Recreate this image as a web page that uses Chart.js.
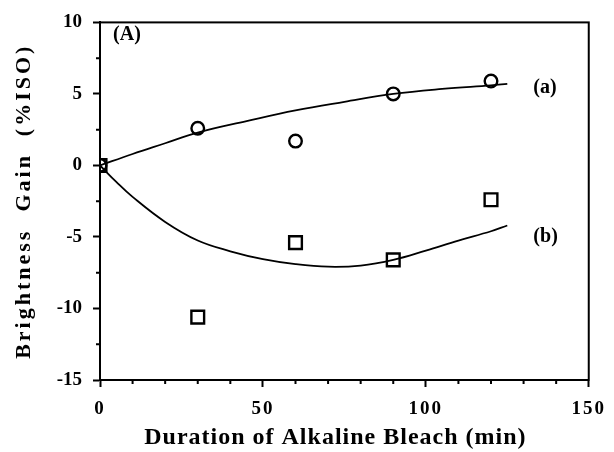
<!DOCTYPE html>
<html><head><meta charset="utf-8">
<script src="https://cdn.jsdelivr.net/npm/chart.js@4/dist/chart.umd.min.js"></script>
<style>html,body{margin:0;padding:0;background:#fff}#wrap{width:614px;height:452px}</style>
</head><body><div id="wrap"><canvas id="c" width="614" height="452"></canvas></div>
<script>
// ---- data ----
const durationCircles = [0, 30, 60, 90, 120];
const gainCircles = [0, 2.6, 1.7, 5.0, 5.9];
const durationSquares = [0, 30, 60, 90, 120];
const gainSquares = [0, -10.6, -5.4, -6.6, -2.4];
const fitA_x = [0, 10, 20, 30, 45, 60, 75, 90, 105, 120, 125];
const fitA_y = [0, 0.8, 1.55, 2.3, 3.1, 3.85, 4.45, 5.0, 5.35, 5.6, 5.7];
const fitB_x = [0, 5, 10, 20, 30, 40, 50, 60, 70, 80, 90, 100, 110, 120, 125];
const fitB_y = [0, -1.15, -2.2, -3.95, -5.25, -6.0, -6.55, -6.9, -7.08, -7.0, -6.6, -5.95, -5.25, -4.6, -4.2];
const xTicks = [0, 50, 100, 150];
const yTicks = [-15, -10, -5, 0, 5, 10];
const xMinorTicks = [10, 20, 30, 40, 60, 70, 80, 90, 110, 120, 130, 140];
const yMinorTicks = [-12.5, -7.5, -2.5, 2.5, 7.5];
const noteTexts = ['(A)', '(a)', '(b)'];
const noteX = [4, 133, 133];
const noteY = [9.1, 5.4, -5.0];
const xTitle = 'Duration of Alkaline Bleach (min)';
const yTitle = 'Brightness  Gain  (%ISO)';

const SERIF = '"Liberation Serif", "DejaVu Serif", serif';
const toPts = (xs, ys) => xs.map((x, i) => ({x, y: ys[i]}));

const extras = {
  id: 'extras',
  afterLayout(chart) {
    const xs = chart.scales.x, ys = chart.scales.y;
    if (!xs._lsPatched) {
      const o = xs.drawLabels;
      xs.drawLabels = function (a) { const c = this.ctx; c.save(); c.letterSpacing = '2px'; o.call(this, a); c.restore(); };
      const ot = xs.drawTitle;
      xs.drawTitle = function () { const c = this.ctx; c.save(); c.translate(-9, 0); c.letterSpacing = '1px'; ot.call(this); c.restore(); };
      xs._lsPatched = true;
    }
    if (!ys._lsPatched) {
      const ot = ys.drawTitle;
      ys.drawTitle = function () { const c = this.ctx; c.save(); c.letterSpacing = '3px'; ot.call(this); c.restore(); };
      ys._lsPatched = true;
    }
  },
  beforeDatasetsDraw(chart) {
    const {ctx, chartArea: a} = chart;
    ctx.save();
    ctx.strokeStyle = '#000';
    ctx.lineWidth = 2;
    ctx.strokeRect(a.left, a.top, a.right - a.left, a.bottom - a.top);
    ctx.restore();
  },
  afterDraw(chart) {
    const {ctx, chartArea: a, scales: {x, y}} = chart;
    ctx.save();
    ctx.strokeStyle = '#000';
    ctx.lineWidth = 2;
    ctx.beginPath();
    xMinorTicks.forEach(v => { const p = x.getPixelForValue(v); ctx.moveTo(p, a.bottom); ctx.lineTo(p, a.bottom + 4); });
    yMinorTicks.forEach(v => { const p = y.getPixelForValue(v); ctx.moveTo(a.left - 4, p); ctx.lineTo(a.left, p); });
    ctx.stroke();
    ctx.fillStyle = '#000';
    ctx.font = 'bold 20px ' + SERIF;
    ctx.textAlign = 'left';
    ctx.textBaseline = 'middle';
    noteTexts.forEach((t, i) => ctx.fillText(t, x.getPixelForValue(noteX[i]), y.getPixelForValue(noteY[i])));
    ctx.restore();
  }
};

new Chart(document.getElementById('c'), {
  type: 'scatter',
  data: {
    datasets: [
      {label: 'fit (a)', data: toPts(fitA_x, fitA_y), showLine: true, pointRadius: 0, borderColor: '#000', borderWidth: 1.8, tension: 0.4, fill: false, order: 3},
      {label: 'fit (b)', data: toPts(fitB_x, fitB_y), showLine: true, pointRadius: 0, borderColor: '#000', borderWidth: 1.8, tension: 0.4, fill: false, order: 3},
      {label: '(a)', data: toPts(durationCircles, gainCircles), pointStyle: 'circle', pointRadius: 6.3, borderWidth: 2.4, borderColor: '#000', backgroundColor: 'rgba(0,0,0,0)', order: 2},
      {label: '(b)', data: toPts(durationSquares, gainSquares), pointStyle: 'rect', pointRadius: 9, borderWidth: 2.4, borderColor: '#000', backgroundColor: 'rgba(0,0,0,0)', order: 1}
    ]
  },
  options: {
    responsive: false,
    animation: false,
    devicePixelRatio: 1,
    layout: {padding: {top: 17, right: 21, left: 0, bottom: 0}},
    plugins: {legend: {display: false}, tooltip: {enabled: false}},
    scales: {
      x: {
        type: 'linear', min: 0, max: 150,
        afterBuildTicks: s => { s.ticks = xTicks.map(v => ({value: v})); },
        afterFit: s => { s.height = 72; },
        grid: {drawOnChartArea: false, drawTicks: true, tickLength: 7, tickWidth: 2, tickColor: '#000', color: '#000'},
        border: {display: true, color: '#000', width: 2},
        ticks: {color: '#000', padding: 11, maxRotation: 0, font: {family: SERIF, size: 19, weight: 'bold'}},
        title: {display: true, text: xTitle, color: '#000', padding: {top: 0, bottom: 0}, font: {family: SERIF, size: 24, weight: 'bold'}}
      },
      y: {
        type: 'linear', min: -15, max: 10,
        afterBuildTicks: s => { s.ticks = yTicks.map(v => ({value: v})); },
        afterFit: s => { s.width = 100; },
        grid: {drawOnChartArea: false, drawTicks: true, tickLength: 7, tickWidth: 2, tickColor: '#000', color: '#000'},
        border: {display: true, color: '#000', width: 2},
        ticks: {color: '#000', padding: 11, font: {family: SERIF, size: 19, weight: 'bold'}},
        title: {display: true, text: yTitle, color: '#000', padding: {top: 11, bottom: 0}, font: {family: SERIF, size: 22, weight: 'bold'}}
      }
    }
  },
  plugins: [extras]
});
</script>
</body></html>
